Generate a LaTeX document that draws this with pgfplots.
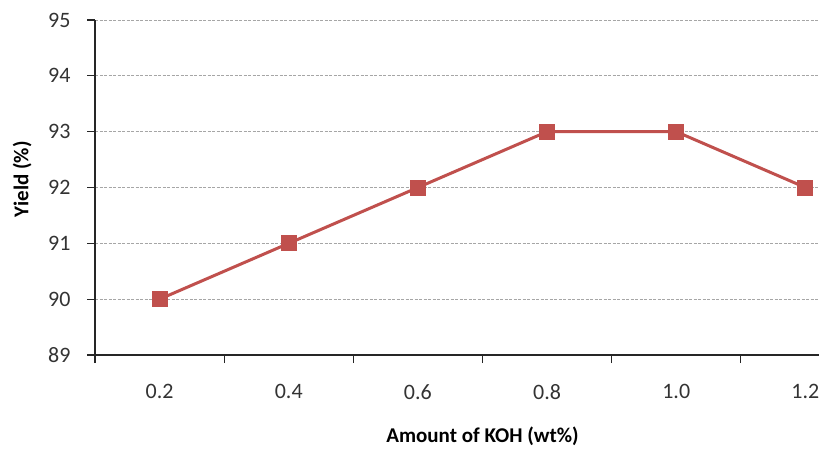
\documentclass[border=0pt]{standalone}
\usepackage{pgfplots}
\pgfplotsset{compat=1.18}
\usepackage{fontspec}
\setmainfont{Carlito}
\definecolor{excelred}{HTML}{C0504D}
\definecolor{gridgray}{HTML}{A6A6A6}
\begin{document}
\begin{tikzpicture}[x=1pt,y=1pt]
\begin{axis}[
  at={(95pt,93pt)}, anchor=south west,
  scale only axis, width=775pt, height=335pt,
  xmin=-0.5, xmax=5.5, ymin=89, ymax=95,
  axis x line*=bottom, axis y line*=left,
  axis line style={line width=1.3pt, black!85},
  xtick={0,1,2,3,4,5},
  xticklabels={0.2,0.4,0.6,0.8,1.0,1.2},
  minor xtick={-0.5,0.5,1.5,2.5,3.5,4.5,5.5},
  ytick={89,90,...,95},
  tick align=outside,
  major tick length=8pt, minor tick length=8pt,
  major x tick style={draw=none},
  minor x tick style={line width=1.3pt, black!85},
  major y tick style={line width=1.3pt, black!85},
  ymajorgrids,
  major grid style={gridgray, line width=0.9pt, dash pattern=on 3pt off 1.5pt},
  /pgf/number format/assume math mode=true,
  tick label style={font=\fontsize{22}{26}\selectfont, text=black!80},
  yticklabel style={xshift=-13pt},
  xticklabel style={yshift=-18pt},
  xlabel={\textbf{Amount of KOH (wt\%)}},
  ylabel={\textbf{Yield (\%)}},
  label style={font=\fontsize{21}{25}\selectfont},
  xlabel style={at={(axis description cs:0.5,0)}, anchor=north, yshift=-68pt},
  ylabel style={at={(axis description cs:-0.094,0.525)}, anchor=center},
  clip=false,
]
\addplot[excelred, line width=3pt, mark=square*, mark size=6.5pt,
  mark options={solid, fill=excelred, draw=excelred}]
  coordinates {(0,90) (1,91) (2,92) (3,93) (4,93) (5,92)};
\end{axis}
\pgfresetboundingbox
\path (0,0) rectangle (819pt,448pt);
\end{tikzpicture}
\end{document}
